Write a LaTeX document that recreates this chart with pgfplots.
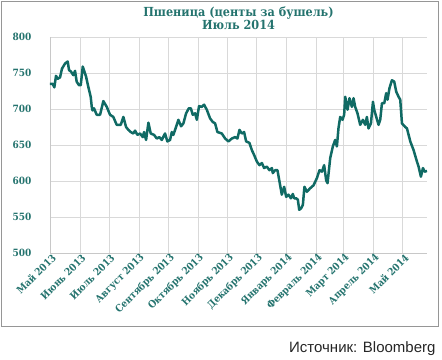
\documentclass[border=0pt]{standalone}
\usepackage{pgfplots}
\pgfplotsset{compat=1.18}
\usepackage{pgfplotstable}
\usepackage{fontspec}
\setmainfont{DejaVu Serif Condensed}
\newfontfamily\srcfont{Liberation Sans}
\definecolor{linec}{RGB}{16,106,100}
\definecolor{textc}{RGB}{36,115,110}
\definecolor{gridc}{RGB}{217,217,217}
\definecolor{axisc}{RGB}{200,200,200}
\definecolor{framec}{RGB}{150,150,150}

\pgfplotstableread{
day val
0 735
2.8 735
4.5 730
6.2 746
8.0 742
10.4 744
12.4 756
15.5 763
18.3 766
19.7 754
21.7 752
24.1 747
25.9 753
27.6 738
30.0 733
31.8 733
33.9 759
37.3 745
39.6 731
42.1 717
43.2 703
44.0 698
45.5 701
48.3 692
51.8 692
55.2 711
58.7 703
62.1 692
65.5 689
69.0 678
73.2 678
75.9 689
78.7 675
81.1 671
83.5 668
86.2 666
88.0 670
90.4 664
93.2 666
96.0 661
97.3 668
99.4 657
101.8 681
104.2 666
107.7 664
110.5 659
113.1 661
115.6 657
119.0 666
121.4 655
124.2 657
126.0 668
127.6 664
130.4 675
132.8 685
135.6 676
138.0 680
140.8 694
143.6 701
145.7 701
147.7 692
150.1 694
151.9 685
154.2 704
157.0 703
159.4 706
162.2 699
165.6 687
168.4 682
170.8 680
173.2 668
177.7 666
181.2 659
184.6 655
188.1 659
191.5 661
193.9 659
196.0 671
198.4 666
200.8 668
202.9 655
206.3 653
208.8 643
211.2 636
214.0 627
216.7 622
219.2 625
221.5 618
224.3 620
227.0 615
229.5 618
230.5 611
232.9 615
235.3 615
238.1 594
239.8 581
242.2 592
244.3 578
246.7 581
249.2 576
251.2 582
252.6 576
254.7 576
256.4 574
257.8 560
259.8 562
261.6 567
263.2 592
265.7 585
269.2 590
272.6 594
276.1 604
278.8 615
281.3 613
283.6 622
285.7 601
287.1 597
289.9 632
292.6 648
295.0 657
296.8 648
298.4 673
300.2 689
302.6 685
304.3 692
305.4 717
307.8 699
309.8 715
312.3 703
314.0 715
315.7 703
318.1 694
320.9 678
323.7 685
326.1 678
327.8 689
329.5 673
332.0 680
334.1 710
335.4 699
337.5 689
339.9 678
341.6 685
343.4 708
345.8 708
347.8 722
349.2 713
351.2 729
353.7 740
356.1 738
358.2 724
360.6 717
362.3 713
364.1 680
367.5 675
369.3 673
372.7 655
376.1 643
379.6 627
381.3 620
383.7 606
385.8 618
387.5 613
390.0 614
}\wheat

\begin{document}
\begin{tikzpicture}[x=1pt,y=1pt]
\path[use as bounding box] (0,0) rectangle (442,-359);
\draw[framec, line width=1.2pt] (1.5,-1.5) rectangle (438.5,-326.5);
\begin{axis}[
  at={(50pt,-253pt)}, anchor=south west,
  scale only axis,
  width=377pt, height=216pt,
  xmin=0, xmax=390, ymin=500, ymax=800,
  xtick={0,31,61,92,123,153,184,214,245,276,304,335,365},
  xticklabels={Май 2013,Июнь 2013,Июль 2013,Август 2013,Сентябрь 2013,Октябрь 2013,Ноябрь 2013,Декабрь 2013,Январь 2014,Февраль 2014,Март 2014,Апрель 2014,Май 2014},
  ytick={500,550,...,800},
  axis x line*=bottom, axis y line*=left,
  axis line style={axisc, line width=0.8pt, -},
  xmajorgrids, ymajorgrids,
  grid style={gridc, line width=0.8pt},
  major tick length=0pt,
  tick label style={font=\fontsize{10}{12}\selectfont\bfseries, text=textc},
  yticklabel style={anchor=east, xshift=-15pt},
  xticklabel style={rotate=45, anchor=east, yshift=-5pt, xshift=4pt},
  /pgf/number format/assume math mode=true,
  clip=false,
]
\addplot[linec, line width=2.5pt, line join=round] table[x=day, y=val] {\wheat};
\end{axis}
\node[anchor=base, text=textc, font=\fontsize{12.5}{14}\selectfont\bfseries] at (238.5,-16) {Пшеница (центы за бушель)};
\node[anchor=base, text=textc, font=\fontsize{12.5}{14}\selectfont\bfseries] at (238.5,-29.5) {Июль 2014};
\node[anchor=base east, font=\srcfont\fontsize{15}{17}\selectfont, text=black!85] at (439,-352) {Источник: Bloomberg};
\end{tikzpicture}
\end{document}
